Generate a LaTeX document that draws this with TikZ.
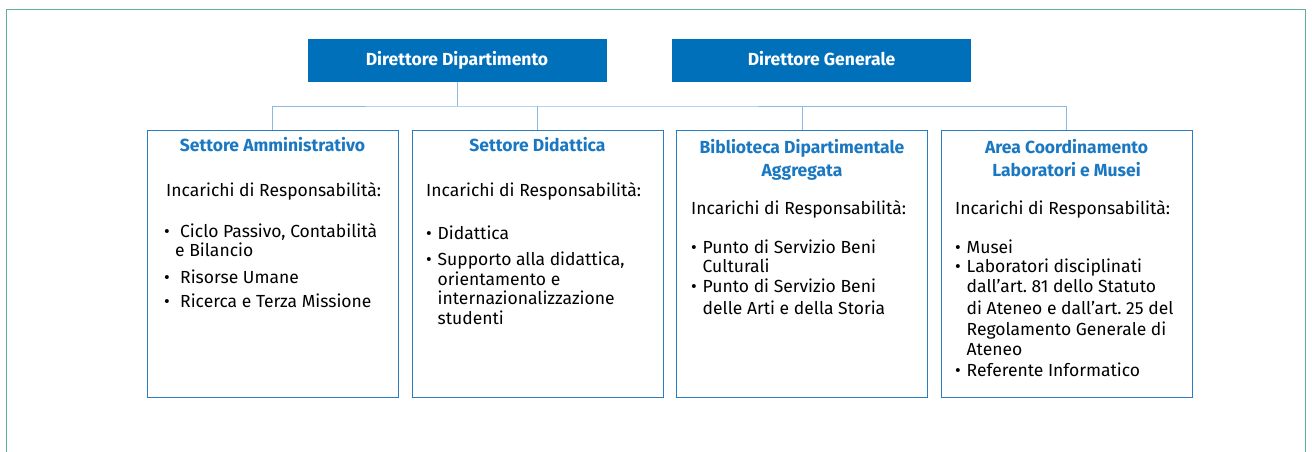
\documentclass[tikz,border=0pt]{standalone}
\usepackage{fontspec}
\setmainfont{Fira Sans}
\usetikzlibrary{positioning}
\definecolor{blu}{HTML}{0070BB}
\definecolor{blut}{HTML}{1A78C2}
\definecolor{bordo}{HTML}{2A7CC0}
\definecolor{filo}{HTML}{8DB9E0}
\definecolor{cornice}{HTML}{5FAF90}
\tikzset{
  capo/.style={fill=blu,text=white,font=\fontsize{17.5}{20}\selectfont\bfseries,minimum width=299pt,minimum height=43pt,inner sep=0pt,text height=12.5pt,text depth=3.5pt},
  settore/.style={draw=bordo,line width=1pt,minimum width=251pt,minimum height=267pt,inner sep=0pt},
  titolo/.style={text=blut,font=\fontsize{17.5}{23}\selectfont\bfseries,align=center,inner sep=0pt,anchor=north},
  testo/.style={font=\fontsize{17.5}{19.5}\selectfont,align=left,inner sep=0pt,anchor=north west},
  filo/.style={draw=filo,line width=1pt},
}
\newcommand{\voce}[1][11.5pt]{\makebox[#1][l]{•}}
\frenchspacing

\begin{document}
\begin{tikzpicture}[x=1pt,y=-1pt]
  \useasboundingbox (0,0) rectangle (1312,451);
  % ===== cornice =====
  \draw[cornice,line width=1pt] (6.5,455) -- (6.5,9.5) -- (1305.5,9.5) -- (1305.5,455);
  % ===== direzione =====
  \node[capo] (dd) at (457,60.5) {Direttore Dipartimento};
  \node[capo] (dg) at (821.5,60.5) {Direttore Generale};
  % ===== settori =====
  \foreach \n/\x in {s1/272.5, s2/537.5, s3/802, s4/1066.5}{
    \node[settore] (\n) at (\x,263.5) {};}
  % ===== collegamenti =====
  \coordinate (bus) at (457,106);
  \draw[filo] (dd.south) -- (bus);
  \draw[filo] (s1.north) |- (bus) -| (s4.north);
  \draw[filo] (s2.north) -- (s2.north |- bus);
  \draw[filo] (s3.north) -- (s3.north |- bus);
  % ===== titoli =====
  \node[titolo] (t1) at (272.5,137.5) {Settore Amministrativo};
  \node[titolo] (t2) at (537.5,137.5) {Settore Didattica};
  \node[titolo] (t3) at (802,139.5) {Biblioteca Dipartimentale\\Aggregata};
  \node[titolo] (t4) at (1066.5,139.5) {Area Coordinamento\\Laboratori e Musei};
  % ===== incarichi =====
  \node[testo] (c1) at (164,182.5) {\hspace*{2pt}Incarichi di Responsabilità:\\[21pt]
    \voce[16pt]Ciclo Passivo, Contabilità\\
    \hspace*{11pt}e Bilancio\\[7pt]
    \voce[16pt]Risorse Umane\\[5pt]
    \voce[16pt]Ricerca e Terza Missione};
  \node[testo] (c2) at (426,182.5) {Incarichi di Responsabilità:\\[23pt]
    \voce Didattica\\[7pt]
    \voce Supporto alla didattica,\\
    \hspace*{11.5pt}orientamento e\\
    \hspace*{11.5pt}internazionalizzazione\\
    \hspace*{11.5pt}studenti};
  \node[testo] (c3) at (691,200.5) {Incarichi di Responsabilità:\\[19pt]
    \voce Punto di Servizio Beni\\
    \hspace*{11.5pt}Culturali\\
    \voce Punto di Servizio Beni\\[3pt]
    \hspace*{11.5pt}delle Arti e della Storia};
  \node[testo] (c4) at (955,200.5) {Incarichi di Responsabilità:\\[19pt]
    \voce Musei\\
    \voce Laboratori disciplinati\\
    \hspace*{11.5pt}dall’art. 81 dello Statuto\\[3pt]
    \hspace*{11.5pt}di Ateneo e dall’art. 25 del\\[1pt]
    \hspace*{11.5pt}Regolamento Generale di\\[1pt]
    \hspace*{11.5pt}Ateneo\\[1.5pt]
    \voce Referente Informatico};
\end{tikzpicture}
\end{document}
